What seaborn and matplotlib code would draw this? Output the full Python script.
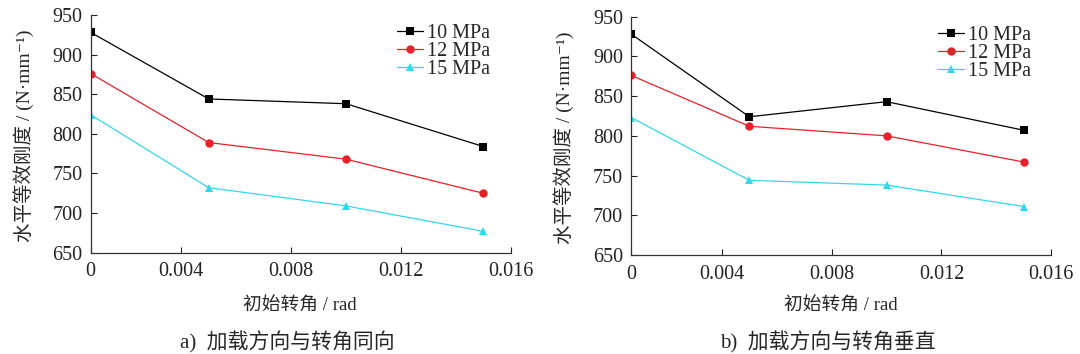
import pandas as pd
import seaborn as sns
import matplotlib.pyplot as plt

# initial rotation angle (first point sits on the left spine, labelled "0")
angle = [0.0007, 0.005, 0.010, 0.015]
pressures = ['10 MPa', '12 MPa', '15 MPa']

# a) load direction same as rotation
stiff_a_10 = [928, 844, 838, 784]
stiff_a_12 = [876, 789, 768, 725]
stiff_a_15 = [824, 732, 709, 677]

# b) load direction perpendicular to rotation
stiff_b_10 = [928, 824, 843, 807]
stiff_b_12 = [876, 812, 800, 767]
stiff_b_15 = [823, 744, 738, 711]

xticks = [0.0007, 0.004, 0.008, 0.012, 0.016]
xticklabels = ['0', '0.004', '0.008', '0.012', '0.016']
yticks = [650, 700, 750, 800, 850, 900, 950]


def make_df(s10, s12, s15):
    rows = []
    for p, vals in zip(pressures, [s10, s12, s15]):
        for a, v in zip(angle, vals):
            rows.append({'angle': a, 'stiffness': v, 'p': p})
    return pd.DataFrame(rows)


df_a = make_df(stiff_a_10, stiff_a_12, stiff_a_15)
df_b = make_df(stiff_b_10, stiff_b_12, stiff_b_15)

sns.set_style('ticks')
fonts = ['Liberation Serif', 'Noto Sans CJK SC', 'DejaVu Serif']
plt.rcParams['font.family'] = fonts

palette = {'10 MPa': '#000000', '12 MPa': '#e8202a', '15 MPa': '#33d6ea'}
markers = {'10 MPa': 's', '12 MPa': 'o', '15 MPa': '^'}

fig = plt.figure(figsize=(10.8, 3.54), dpi=100)
ax_a = fig.add_axes([0.0840, 0.2862, 0.3889, 0.6715])
ax_b = fig.add_axes([0.5845, 0.2797, 0.3889, 0.6732])

for ax, df in [(ax_a, df_a), (ax_b, df_b)]:
    sns.lineplot(data=df, x='angle', y='stiffness', hue='p', style='p',
                 palette=palette, markers=markers, dashes=False,
                 markersize=6, markeredgewidth=0, linewidth=0.9, ax=ax)
    ax.set_xlim(0.0007, 0.016)
    ax.set_ylim(650, 950)
    ax.set_xticks(xticks)
    ax.set_xticklabels(xticklabels)
    ax.set_yticks(yticks)
    ax.tick_params(direction='in', length=4, width=0.8, labelsize=14.5,
                   colors='#222222')
    ax.tick_params(axis='x', pad=7)
    ax.tick_params(axis='y', pad=6)
    for side in ['top', 'right']:
        ax.spines[side].set_visible(False)
    for side in ['left', 'bottom']:
        ax.spines[side].set_linewidth(0.9)
        ax.spines[side].set_color('#333333')
    ax.set_xlabel('')
    ax.set_ylabel('水平等效刚度 / (N·mm⁻¹)', fontsize=14, va='center')
    ax.yaxis.set_label_coords(-0.16, 0.49)
    handles, labels = ax.get_legend_handles_labels()
    ax.legend(handles, labels, loc='upper left', bbox_to_anchor=(0.72, 0.98),
              frameon=False, fontsize=14.5, handlelength=1.3,
              handletextpad=0.2, labelspacing=-0.05, borderaxespad=0,
              borderpad=0.2)

fig.text(300 / 1080, 1 - 306 / 354, '初始转角 / rad', fontsize=13.5,
         ha='center', va='center')
fig.text(841 / 1080, 1 - 306 / 354, '初始转角 / rad', fontsize=13.5,
         ha='center', va='center')
fig.text(287 / 1080, 1 - 342 / 354, 'a)  加载方向与转角同向', fontsize=15,
         ha='center', va='center')
fig.text(828 / 1080, 1 - 342 / 354, 'b)  加载方向与转角垂直', fontsize=15,
         ha='center', va='center')

fig.savefig('out.png', dpi=100)
